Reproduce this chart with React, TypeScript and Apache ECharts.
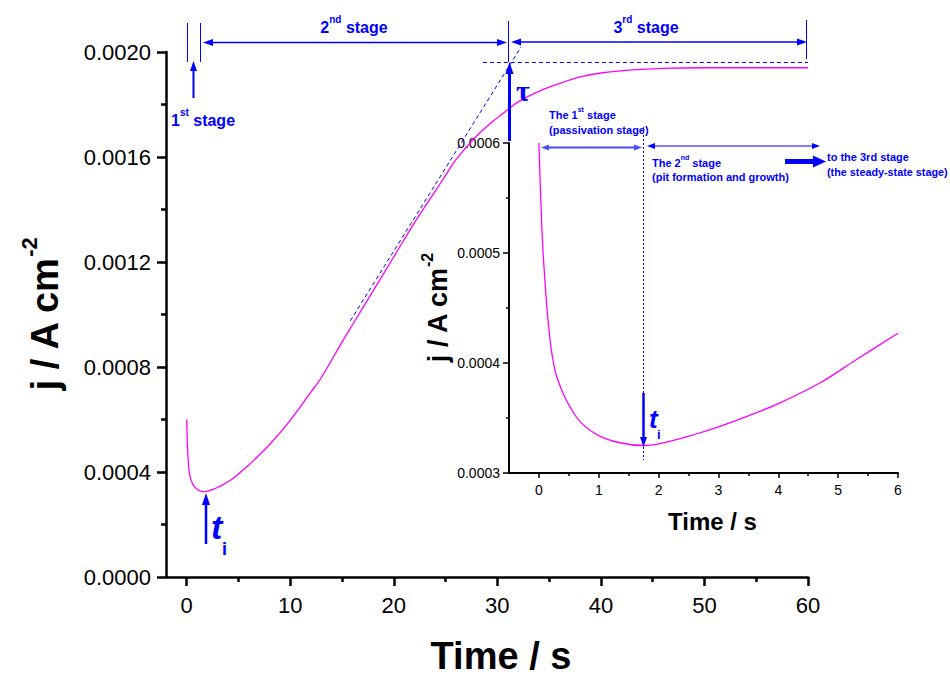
import React, { useEffect, useRef } from "react";
import * as echarts from "echarts";

// ---- data ----
const times = [0, 0.03, 0.06, 0.1, 0.15, 0.2, 0.25, 0.3, 0.4, 0.5, 0.7, 1.0, 1.35, 1.75, 2.2, 2.6, 3.0, 3.5, 4.0, 4.7, 5.3, 6.0, 8, 10, 12, 13, 15, 16, 17, 18, 20, 22, 24, 25, 26, 28, 30, 31, 32, 34, 36, 38, 40, 43, 46, 50, 55, 60];
const currents = [0.0006, 0.00055, 0.00051, 0.000475, 0.00044, 0.000415, 0.000398, 0.000387, 0.000373, 0.000362, 0.000346, 0.000334, 0.0003275, 0.000325, 0.000329, 0.000335, 0.000342, 0.000352, 0.000363, 0.000382, 0.000403, 0.000427, 0.000505, 0.000597, 0.000705, 0.00076, 0.000895, 0.00096, 0.001025, 0.00109, 0.00122, 0.00135, 0.00147, 0.00153, 0.00159, 0.00168, 0.00175, 0.00178, 0.00181, 0.00185, 0.00188, 0.001905, 0.00192, 0.001932, 0.001938, 0.00194, 0.00194, 0.00194];
const tangentT = [15.8, 32.3];
const tangentJ = [0.000976, 0.00202];
const plateauT = [28.6, 60];
const plateauJ = [0.00196, 0.00196];

const mainXTicks = [0, 10, 20, 30, 40, 50, 60];
const mainXMinor = [5, 15, 25, 35, 45, 55];
const insetXTicks = [0, 1, 2, 3, 4, 5, 6];
const insetXMinor = [0.5, 1.5, 2.5, 3.5, 4.5, 5.5];

const FONT = "'Liberation Sans', Arial, Helvetica, sans-serif";
const BLUE = "#0000ff";
const MAGENTA = "#ff00ff";

function arrowEls(x1: number, y1: number, x2: number, y2: number, o: any = {}) {
  const color = o.color || BLUE;
  const width = o.width || 1.5;
  const head = o.head || 9;
  const hw = o.hw || 3.5;
  const both = !!o.both;
  const dx = x2 - x1, dy = y2 - y1;
  const L = Math.sqrt(dx * dx + dy * dy);
  const ux = dx / L, uy = dy / L;
  const nx = -uy, ny = ux;
  const els: any[] = [];
  const sx = both ? x1 + ux * head * 0.8 : x1;
  const sy = both ? y1 + uy * head * 0.8 : y1;
  const ex = x2 - ux * head * 0.8, ey = y2 - uy * head * 0.8;
  els.push({ type: "line", silent: true, z: 100, shape: { x1: sx, y1: sy, x2: ex, y2: ey }, style: { stroke: color, lineWidth: width } });
  const headAt = (px: number, py: number, dirx: number, diry: number) => {
    const bx = px - dirx * head, by = py - diry * head;
    return { type: "polygon", silent: true, z: 100, shape: { points: [[px, py], [bx + nx * hw, by + ny * hw], [bx - nx * hw, by - ny * hw]] }, style: { fill: color } };
  };
  els.push(headAt(x2, y2, ux, uy));
  if (both) els.push(headAt(x1, y1, -ux, -uy));
  return els;
}

function vline(x: number, y1: number, y2: number, o: any = {}) {
  return { type: "line", silent: true, z: 100, shape: { x1: x, y1, x2: x, y2 }, style: { stroke: o.color || BLUE, lineWidth: o.width || 1, lineDash: o.dash || null } };
}

function supText(x: number, y: number, main1: string, sup: string, main2: string, size: number, align = "left") {
  return {
    type: "text", silent: true, z: 100, x, y,
    style: {
      text: `{n|${main1}}{s|${sup}}{n|${main2}}`,
      align, verticalAlign: "middle",
      rich: {
        n: { fontSize: size, fontWeight: "bold", fill: BLUE, fontFamily: FONT, lineHeight: size * 1.35, verticalAlign: "bottom" },
        s: { fontSize: Math.round(size * 0.62), fontWeight: "bold", fill: BLUE, fontFamily: FONT, lineHeight: Math.round(size * 0.7), verticalAlign: "top" },
      },
    },
  };
}

function plainText(x: number, y: number, text: string, size: number, extra: any = {}) {
  return {
    type: "text", silent: true, z: 100, x, y,
    style: { text, fontSize: size, fontWeight: "bold", fill: BLUE, fontFamily: FONT, align: "left", verticalAlign: "middle", ...extra },
  };
}

export default function App() {
  const ref = useRef<HTMLDivElement>(null);
  useEffect(() => {
    const chart = echarts.init(ref.current!, null, { renderer: "svg" });
    const mainData = times.map((t, i) => [t, currents[i]]);
    const insetData = mainData.filter((d) => d[0] <= 6);

    const graphics: any[] = [
      // 1st stage
      vline(187.5, 23, 62),
      vline(200.5, 23, 62),
      ...arrowEls(193.5, 98, 193.5, 61, { width: 2, head: 10, hw: 3.5 }),
      supText(171, 118, "1", "st", " stage", 16),
      // 2nd stage
      vline(508.5, 21, 62),
      ...arrowEls(203, 42.5, 507, 42.5, { width: 1.5, head: 10, hw: 3.5, both: true }),
      supText(354, 25, "2", "nd", " stage", 16, "center"),
      // 3rd stage
      vline(806.5, 20, 59),
      ...arrowEls(511, 42, 807, 42, { width: 1.5, head: 10, hw: 3.5, both: true }),
      supText(646, 25, "3", "rd", " stage", 16, "center"),
      // tau
      ...arrowEls(509.5, 141, 509.5, 62, { width: 3, head: 12, hw: 4 }),
      plainText(516, 90, "τ", 30, { fontFamily: "'Liberation Serif', 'DejaVu Serif', serif" }),
      // main t_i
      ...arrowEls(206, 544, 206, 493, { width: 2.5, head: 12, hw: 4 }),
      plainText(211, 527, "t", 34, { fontStyle: "italic" }),
      plainText(222, 549, "i", 18),
      // inset annotations
      supText(549, 113, "The 1", "st", " stage", 11),
      plainText(549, 129.5, "(passivation stage)", 11),
      ...arrowEls(541, 147.5, 642, 147.5, { color: "#4a4aff", width: 2, head: 8, hw: 3, both: true }),
      ...arrowEls(647, 146, 820, 146, { width: 1.2, head: 8, hw: 3, both: true }),
      supText(652, 161, "The 2", "nd", " stage", 11),
      plainText(652, 177, "(pit formation and growth)", 11),
      ...arrowEls(785, 161.5, 826, 161.5, { width: 5, head: 13, hw: 6 }),
      plainText(827, 157, "to the 3rd stage", 11),
      plainText(827, 172, "(the steady-state stage)", 10.8),
      vline(643.5, 127, 460, { width: 1, dash: [2, 2] }),
      ...arrowEls(643.5, 393, 643.5, 447, { width: 2.5, head: 10, hw: 3.5 }),
      plainText(649, 419, "t", 26, { fontStyle: "italic" }),
      plainText(657, 434, "i", 13),
    ];

    const axisLine = (w: number) => ({ show: true, onZero: false, lineStyle: { color: "#000", width: w } });

    chart.setOption({
      animation: false,
      backgroundColor: "#ffffff",
      grid: [
        { left: 166, right: 142, top: 52, bottom: 99, containLabel: false, outerBoundsMode: "none" },
        { left: 509, right: 52, top: 143, bottom: 203, containLabel: false, outerBoundsMode: "none" },
      ],
      xAxis: [
        {
          type: "value", gridIndex: 0, min: -2, max: 60,
          axisLine: axisLine(2.5),
          axisTick: { show: true, length: 9, customValues: mainXTicks, lineStyle: { color: "#000", width: 2.5 } },
          axisLabel: { customValues: mainXTicks, fontSize: 22, color: "#000", fontFamily: FONT, margin: 17 },
          splitLine: { show: false },
          name: "Time / s", nameLocation: "middle", nameGap: 60,
          nameTextStyle: { fontSize: 38, fontWeight: "bold", color: "#000", fontFamily: FONT, padding: [0, 0, 0, 28] },
        },
        {
          type: "value", gridIndex: 0, min: -2, max: 60, position: "bottom", offset: 0,
          axisLine: { show: false },
          axisTick: { show: true, length: 5, customValues: mainXMinor, lineStyle: { color: "#000", width: 2.5 } },
          axisLabel: { show: false },
          splitLine: { show: false },
        },
        {
          type: "value", gridIndex: 1, min: -0.5, max: 6,
          axisLine: axisLine(2),
          axisTick: { show: true, length: 5, customValues: insetXTicks, lineStyle: { color: "#000", width: 1.5 } },
          axisLabel: { customValues: insetXTicks, fontSize: 14, color: "#000", fontFamily: FONT, margin: 10 },
          splitLine: { show: false },
          name: "Time / s", nameLocation: "middle", nameGap: 36,
          nameTextStyle: { fontSize: 24, fontWeight: "bold", color: "#000", fontFamily: FONT, padding: [0, 0, 0, 18] },
        },
        {
          type: "value", gridIndex: 1, min: -0.5, max: 6, position: "bottom", offset: 0,
          axisLine: { show: false },
          axisTick: { show: true, length: 3, customValues: insetXMinor, lineStyle: { color: "#000", width: 1.5 } },
          axisLabel: { show: false },
          splitLine: { show: false },
        },
      ],
      yAxis: [
        {
          type: "value", gridIndex: 0, min: 0, max: 0.002, interval: 0.0004,
          axisLine: axisLine(2.5),
          axisTick: { show: true, length: 9, lineStyle: { color: "#000", width: 2.5 } },
          minorTick: { show: true, splitNumber: 2, length: 5, lineStyle: { color: "#000", width: 2.5 } },
          axisLabel: { formatter: (v: number) => v.toFixed(4), fontSize: 22, color: "#000", fontFamily: FONT, margin: 15 },
          splitLine: { show: false },
          minorSplitLine: { show: false },
          name: "{a|j / A cm}{b|-2}", nameLocation: "middle", nameRotate: 90, nameGap: 102,
          nameTextStyle: {
            rich: {
              a: { fontSize: 38, fontWeight: "bold", color: "#000", fontFamily: FONT, lineHeight: 46, verticalAlign: "bottom" },
              b: { fontSize: 22, fontWeight: "bold", color: "#000", fontFamily: FONT, lineHeight: 24, verticalAlign: "top" },
            },
          },
        },
        {
          type: "value", gridIndex: 1, min: 0.0003, max: 0.0006, interval: 0.0001,
          axisLine: axisLine(2),
          axisTick: { show: true, length: 6, lineStyle: { color: "#000", width: 1.5 } },
          minorTick: { show: true, splitNumber: 2, length: 3, lineStyle: { color: "#000", width: 1.5 } },
          axisLabel: { formatter: (v: number) => v.toFixed(4), fontSize: 14, color: "#000", fontFamily: FONT, margin: 9 },
          splitLine: { show: false },
          minorSplitLine: { show: false },
          name: "{a|j / A cm}{b|-2}", nameLocation: "middle", nameRotate: 90, nameGap: 58,
          nameTextStyle: {
            rich: {
              a: { fontSize: 27, fontWeight: "bold", color: "#000", fontFamily: FONT, lineHeight: 32, verticalAlign: "bottom" },
              b: { fontSize: 16, fontWeight: "bold", color: "#000", fontFamily: FONT, lineHeight: 17, verticalAlign: "top" },
            },
          },
        },
      ],
      series: [
        {
          type: "line", name: "main", xAxisIndex: 0, yAxisIndex: 0, data: mainData,
          showSymbol: false, symbol: "none", smooth: 0.35,
          lineStyle: { color: MAGENTA, width: 1.3 }, clip: true, z: 5,
        },
        {
          type: "line", name: "tangent", xAxisIndex: 0, yAxisIndex: 0,
          data: tangentT.map((t, i) => [t, tangentJ[i]]),
          showSymbol: false, symbol: "none", clip: false,
          lineStyle: { color: BLUE, width: 1, type: [4, 3] }, z: 4,
        },
        {
          type: "line", name: "plateau", xAxisIndex: 0, yAxisIndex: 0,
          data: plateauT.map((t, i) => [t, plateauJ[i]]),
          showSymbol: false, symbol: "none", clip: false,
          lineStyle: { color: BLUE, width: 1, type: [4, 3] }, z: 4,
        },
        {
          type: "line", name: "inset", xAxisIndex: 2, yAxisIndex: 1, data: insetData,
          showSymbol: false, symbol: "none", smooth: 0.35,
          lineStyle: { color: MAGENTA, width: 1.3 }, clip: true, z: 5,
        },
      ],
      graphic: { elements: graphics },
    });
    return () => chart.dispose();
  }, []);
  return <div ref={ref} style={{ position: "fixed", left: 0, top: 0, width: 950, height: 676, background: "#fff" }} />;
}
